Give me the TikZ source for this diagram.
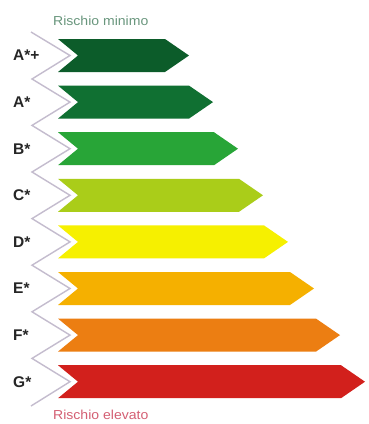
\documentclass[tikz,border=0pt]{standalone}
\usepackage{fontspec}
\setmainfont{Liberation Sans}
\definecolor{cAplus}{RGB}{12,92,42}
\definecolor{cA}{RGB}{16,112,50}
\definecolor{cB}{RGB}{40,165,55}
\definecolor{cC}{RGB}{170,205,25}
\definecolor{cD}{RGB}{246,240,0}
\definecolor{cE}{RGB}{245,176,0}
\definecolor{cF}{RGB}{236,126,18}
\definecolor{cG}{RGB}{210,32,28}
\definecolor{zig}{RGB}{196,188,206}
\definecolor{txtgreen}{RGB}{105,150,125}
\definecolor{txtred}{RGB}{212,95,115}
\tikzset{
  lbl/.style={anchor=west,inner sep=0pt,font=\fontsize{15.5}{15.5}\selectfont\bfseries,text=black!85},
  risk/.style={anchor=west,inner sep=0pt,font=\fontsize{13}{13}\selectfont},
  zigline/.style={draw=zig,line width=1.4pt,line join=miter}
}
\begin{document}
\begin{tikzpicture}[x=1pt,y=-1pt]
\useasboundingbox[fill=white] (0,0) rectangle (368,424);
% bars: center y, tip x, colour, label
\foreach \cy/\tip/\col/\lab/\nm in {55.5/189/cAplus/A*+/aplus, 102.1/213/cA/A*/a, 148.7/238/cB/B*/b, 195.3/263/cC/C*/c, 241.9/288/cD/D*/d, 288.5/314/cE/E*/e, 335.1/340/cF/F*/f, 381.7/365/cG/G*/g}{
  \fill[\col] (58,\cy-16.5) -- (\tip-24,\cy-16.5) -- (\tip,\cy) -- (\tip-24,\cy+16.5) -- (58,\cy+16.5) -- (78,\cy) -- cycle;
  \node[lbl] (l\nm) at (13,\cy) {\lab};
}
% zigzag line
\draw[zigline] (31,32) -- (70,55.5) -- (32,79) -- (70,102.1) -- (32,125.4) -- (70,148.7) -- (32,172) -- (70,195.3) -- (32,218.6) -- (70,241.9) -- (32,265.2) -- (70,288.5) -- (32,311.8) -- (70,335.1) -- (32,358.4) -- (70,381.7) -- (31,406);
\node[risk,text=txtgreen] (rmin) at (53,21) {\scalebox{1.08}[1]{Rischio minimo}};
\node[risk,text=txtred] (rmax) at (53,415) {\scalebox{1.08}[1]{Rischio elevato}};
\end{tikzpicture}
\end{document}
